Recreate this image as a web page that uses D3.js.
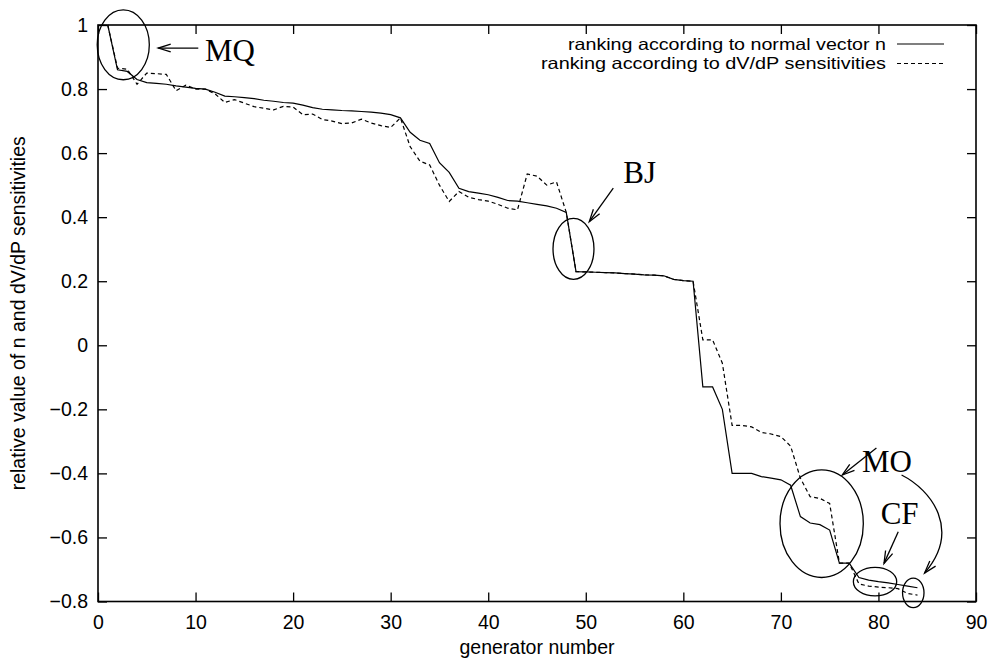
<!DOCTYPE html>
<html>
<head>
<meta charset="utf-8">
<script src="https://cdn.jsdelivr.net/npm/d3@7"></script>
<style>
  html, body { margin: 0; padding: 0; background: #fff; }
  svg { display: block; }
  .tick text { font-family: "Liberation Sans", Arial, sans-serif; font-size: 19.5px; fill: #000; }
</style>
</head>
<body>
<svg id="chart" width="989" height="661"></svg>
<script>
// Generator indices and the two rankings (relative values)
const generators = [1,2,3,4,5,6,7,8,9,10,11,12,13,14,15,16,17,18,19,20,21,22,23,24,25,26,27,28,29,30,
  31,32,33,34,35,36,37,38,39,40,41,42,43,44,45,46,47,48,49,50,51,52,53,54,55,56,57,58,59,60,
  61,62,63,64,65,66,67,68,69,70,71,72,73,74,75,76,77,78,79,80,81,82,83,84];

const normalVector = [1.0,0.86,0.855,0.83,0.82,0.818,0.815,0.81,0.806,0.802,0.80,0.79,0.778,0.776,0.773,
  0.77,0.765,0.762,0.758,0.756,0.75,0.742,0.737,0.735,0.733,0.732,0.73,0.728,0.725,0.72,
  0.71,0.665,0.64,0.63,0.57,0.54,0.49,0.48,0.475,0.47,0.462,0.452,0.45,0.445,0.44,0.435,0.428,0.415,
  0.23,0.229,0.228,0.227,0.226,0.224,0.222,0.22,0.219,0.217,0.206,0.202,0.2,
  -0.13,-0.13,-0.2,-0.4,-0.4,-0.4,-0.41,-0.415,-0.42,-0.437,-0.535,-0.555,-0.56,-0.577,-0.68,-0.68,
  -0.725,-0.733,-0.738,-0.742,-0.747,-0.752,-0.757];

const dvdpSensitivity = [1.0,0.865,0.862,0.815,0.85,0.848,0.846,0.795,0.812,0.80,0.80,0.785,0.758,0.767,0.756,
  0.745,0.74,0.735,0.746,0.744,0.72,0.722,0.705,0.70,0.692,0.694,0.706,0.694,0.686,0.68,
  0.71,0.62,0.575,0.563,0.5,0.449,0.48,0.462,0.455,0.45,0.44,0.428,0.423,0.535,0.528,0.50,0.51,0.415,
  0.23,0.229,0.228,0.227,0.226,0.224,0.222,0.22,0.219,0.217,0.206,0.202,0.2,
  0.017,0.017,-0.056,-0.25,-0.25,-0.255,-0.272,-0.277,-0.285,-0.315,-0.415,-0.473,-0.478,-0.494,-0.68,-0.68,
  -0.745,-0.752,-0.755,-0.757,-0.76,-0.775,-0.78];

const xTicks = [0,10,20,30,40,50,60,70,80,90];
const yTicks = [1,0.8,0.6,0.4,0.2,0,-0.2,-0.4,-0.6,-0.8];

const seriesLabels = ["ranking according to normal vector n", "ranking according to dV/dP sensitivities"];

// Annotations in data coordinates
const ellipses = [
  {cx: 2.59, cy: 0.938, rx: 2.67, ry: 0.109},
  {cx: 48.74, cy: 0.301, rx: 2.10, ry: 0.0953},
  {cx: 74.18, cy: -0.557, rx: 4.27, ry: 0.168},
  {cx: 79.65, cy: -0.738, rx: 2.22, ry: 0.0447},
  {cx: 83.57, cy: -0.773, rx: 1.10, ry: 0.046}
];
const labels = [
  {text: "MQ", x: 10.97, y: 0.888},
  {text: "BJ", x: 53.85, y: 0.506},
  {text: "MO", x: 78.31, y: -0.396},
  {text: "CF", x: 80.23, y: -0.558}
];
const arrows = [
  [[10.28, 0.928], [6.18, 0.928]],
  [[52.82, 0.491], [50.36, 0.386]],
  [[79.79, -0.321], [76.3, -0.405]],
  [[82.03, -0.582], [80.57, -0.681]]
];
const curvedArrow = [[82.37, -0.405], [85.45, -0.452], [88.52, -0.577], [84.73, -0.711]];

const svg = d3.select("#chart");
const margin = {left: 98, right: 13, top: 25, bottom: 59.5};
const W = 989, H = 661;
const sans = "Liberation Sans, Arial, sans-serif";
const fs = 19.5;

const x = d3.scaleLinear().domain([0, 90]).range([margin.left, W - margin.right]);
const y = d3.scaleLinear().domain([-0.8, 1]).range([H - margin.bottom, margin.top]);

const tick = 9;

// Axes with inward ticks on all four sides
svg.append("g").attr("transform", `translate(0,${y(-0.8)})`)
  .call(d3.axisBottom(x).tickValues(xTicks).tickFormat(d3.format("d")).tickSize(-tick).tickPadding(14));
svg.append("g").attr("transform", `translate(${x(0)},0)`)
  .call(d3.axisLeft(y).tickValues(yTicks).tickFormat(d => d === 0 ? "0" : d3.format("")(d)).tickSize(-tick).tickPadding(10));
svg.append("g").attr("transform", `translate(0,${y(1)})`)
  .call(d3.axisTop(x).tickValues(xTicks).tickSize(-tick).tickFormat(""));
svg.append("g").attr("transform", `translate(${x(90)},0)`)
  .call(d3.axisRight(y).tickValues(yTicks).tickSize(-tick).tickFormat(""));

svg.selectAll(".domain").remove();
svg.selectAll(".tick line").attr("stroke", "#000").attr("stroke-width", 1.3);

// Frame
svg.append("rect")
  .attr("x", x(0)).attr("y", y(1))
  .attr("width", x(90) - x(0)).attr("height", y(-0.8) - y(1))
  .attr("fill", "none").attr("stroke", "#000").attr("stroke-width", 1.6);

// Axis titles
svg.append("text")
  .attr("x", (x(0) + x(90)) / 2).attr("y", 654)
  .attr("text-anchor", "middle")
  .attr("font-family", sans).attr("font-size", fs)
  .text("generator number");
svg.append("text")
  .attr("transform", `translate(25,${(y(1) + y(-0.8)) / 2}) rotate(-90)`)
  .attr("text-anchor", "middle")
  .attr("font-family", sans).attr("font-size", fs)
  .text("relative value of n and dV/dP sensitivities");

// Series lines
const line = d3.line().x((d, i) => x(generators[i])).y(d => y(d));
svg.append("path").datum(normalVector)
  .attr("d", line).attr("fill", "none").attr("stroke", "#000").attr("stroke-width", 1.2);
svg.append("path").datum(dvdpSensitivity)
  .attr("d", line).attr("fill", "none").attr("stroke", "#000").attr("stroke-width", 1.2)
  .attr("stroke-dasharray", "4,3");

// Legend (slightly condensed height so the two rows do not collide)
const legend = svg.append("g");
const legendWidths = [318, 345];
[0, 1].forEach(i => {
  const ly = 44 + i * 19.5;
  legend.append("text")
    .attr("x", 886).attr("y", ly).attr("dy", "0.35em")
    .attr("text-anchor", "end")
    .attr("font-family", sans).attr("font-size", 16.5)
    .attr("textLength", legendWidths[i]).attr("lengthAdjust", "spacingAndGlyphs")
    .text(seriesLabels[i]);
  legend.append("line")
    .attr("x1", 897).attr("x2", 944).attr("y1", ly).attr("y2", ly)
    .attr("stroke", "#000").attr("stroke-width", 1.2)
    .attr("stroke-dasharray", i === 1 ? "4,3" : null);
});

// Annotations
const ann = svg.append("g").attr("fill", "none").attr("stroke", "#000").attr("stroke-width", 1.3);
ellipses.forEach(e => {
  ann.append("ellipse")
    .attr("cx", x(e.cx)).attr("cy", y(e.cy))
    .attr("rx", x(e.rx) - x(0)).attr("ry", y(0) - y(e.ry));
});

function arrowHead(tx, ty, fx, fy) {
  const ang = Math.atan2(ty - fy, tx - fx);
  const len = 13, spread = 0.3;
  const p1 = [tx - len * Math.cos(ang - spread), ty - len * Math.sin(ang - spread)];
  const p2 = [tx - len * Math.cos(ang + spread), ty - len * Math.sin(ang + spread)];
  return `M${p1[0]},${p1[1]}L${tx},${ty}L${p2[0]},${p2[1]}`;
}

arrows.forEach(a => {
  const [fx, fy] = [x(a[0][0]), y(a[0][1])];
  const [tx, ty] = [x(a[1][0]), y(a[1][1])];
  ann.append("path").attr("d", `M${fx},${fy}L${tx},${ty}`);
  ann.append("path").attr("d", arrowHead(tx, ty, fx, fy));
});

const cp = curvedArrow.map(p => [x(p[0]), y(p[1])]);
ann.append("path").attr("d", `M${cp[0]}C${cp[1]} ${cp[2]} ${cp[3]}`);
ann.append("path").attr("d", arrowHead(cp[3][0], cp[3][1], cp[2][0], cp[2][1]));

svg.append("g").selectAll("text").data(labels).join("text")
  .attr("x", d => x(d.x)).attr("y", d => y(d.y))
  .attr("font-family", "Liberation Serif, Times New Roman, serif").attr("font-size", 31)
  .text(d => d.text);
</script>
</body>
</html>
